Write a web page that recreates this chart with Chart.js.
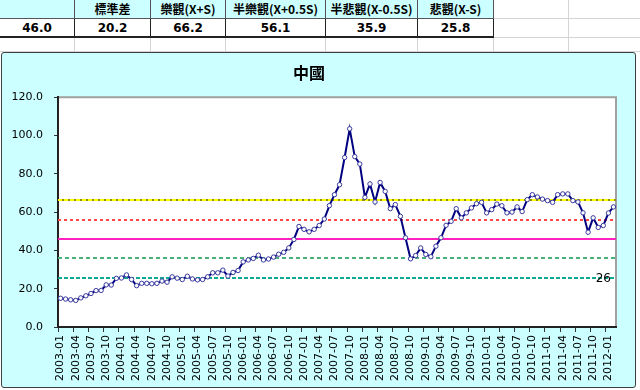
<!DOCTYPE html>
<html>
<head>
<meta charset="utf-8">
<script src="https://cdn.jsdelivr.net/npm/chart.js@4/dist/chart.umd.min.js"></script>
<style>
	html, body { margin: 0; padding: 0; background: #fff; }
	#sheet { position: relative; width: 640px; height: 390px; overflow: hidden; font-family: "DejaVu Sans", "Noto Sans CJK TC", sans-serif; }
	.cell { position: absolute; box-sizing: border-box; border-right: 1px solid #d4d4d4; border-bottom: 1px solid #d4d4d4;
		font-size: 12px; font-weight: bold; text-align: center; color: #000; }
	.head { background: #ccffff; border-right: 1px solid #555; border-bottom: 1px solid #555; font-family: "Noto Sans CJK TC", "DejaVu Sans", sans-serif; }
	.val { background: #fff; border-right: 1px solid #222; border-bottom: 2px solid #222; }
	#box { position: absolute; left: 1px; top: 52px; width: 635px; height: 336px; box-sizing: border-box;
		background: #ccffff; border: 1px solid #404040; border-radius: 3px; }
	#box canvas { position: absolute; left: 0; top: 0; }
</style>
</head>
<body>
<div id="sheet">
	<div id="box"><canvas id="chinaChart" width="633" height="334"></canvas></div>
</div>
<script>
(function(window, document, undefined) {
	// stats table
	var headers = ['', '標準差', '樂觀(X+S)', '半樂觀(X+0.5S)', '半悲觀(X-0.5S)', '悲觀(X-S)'];
	var stats = [46.0, 20.2, 66.2, 56.1, 35.9, 25.8];

	// monthly series, 2003-01 .. 2012-02
	var startYear = 2003;
	var monthCount = 110;
	var values = [
		15.0, 14.6, 14.2, 13.9, 15.2, 16.3, 17.5, 19.0, 19.1, 22.0,
		21.9, 25.4, 25.6, 27.2, 24.8, 21.6, 22.8, 22.8, 22.6, 22.8,
		24.0, 23.4, 26.2, 25.5, 24.8, 26.5, 25.1, 24.6, 24.8, 26.2,
		28.3, 28.3, 29.7, 26.6, 28.5, 29.5, 34.0, 35.0, 35.8, 37.5,
		35.0, 35.5, 36.5, 38.0, 39.0, 41.3, 45.7, 52.5, 51.0, 49.7,
		51.0, 53.0, 56.4, 63.4, 69.1, 74.3, 88.5, 103.5, 89.0, 85.1,
		67.7, 74.7, 65.3, 75.5, 70.8, 61.8, 63.9, 57.8, 46.6, 35.6,
		37.3, 41.3, 37.9, 36.7, 42.2, 46.6, 53.1, 55.2, 61.8, 57.0,
		59.6, 62.2, 64.4, 65.1, 59.6, 61.3, 64.2, 63.3, 59.6, 60.0,
		62.7, 60.3, 66.5, 69.1, 67.9, 66.8, 66.0, 65.1, 69.1, 69.5,
		69.5, 66.0, 65.3, 59.6, 49.5, 57.0, 52.0, 53.0, 59.5, 62.7
	];

	// reference lines: X+S, X+0.5S, X, X-0.5S, X-S
	var refValues = [66.2, 56.1, 46.0, 35.9, 25.8];
	var refLabel = '26';

	var yTicks = [0, 20, 40, 60, 80, 100, 120];

	var categories = [];
	for (var m = 0; m < monthCount; m++) {
		var yr = startYear + Math.floor(m / 12);
		var mo = (m % 12) + 1;
		categories.push(yr + '-' + (mo < 10 ? '0' : '') + mo);
	}

	// --- spreadsheet cells ---
	var sheet = document.getElementById('sheet');
	var colX = [0, 75, 151, 226, 326, 418, 494, 569, 641];
	var rowY = [0, 19, 38, 52];

	function addCell(c, r, cls, text) {
		var d = document.createElement('div');
		d.className = 'cell ' + cls;
		d.style.left = colX[c] + 'px';
		d.style.top = rowY[r] + 'px';
		d.style.width = (colX[c + 1] - colX[c]) + 'px';
		d.style.height = (rowY[r + 1] - rowY[r]) + 'px';
		d.style.lineHeight = (rowY[r + 1] - rowY[r] - 1) + 'px';
		d.textContent = text;
		sheet.insertBefore(d, sheet.firstChild);
	}

	for (var c = 0; c < 8; c++) {
		if (c < 6) {
			addCell(c, 0, 'head', headers[c]);
			addCell(c, 1, 'val', stats[c].toFixed(1));
		} else {
			addCell(c, 0, '', '');
			addCell(c, 1, '', '');
		}
		addCell(c, 2, '', '');
	}

	// --- chart ---
	var plotBg = {
		id: 'plotBg',
		beforeDraw: function(chart) {
			var a = chart.chartArea;
			var ctx = chart.ctx;
			ctx.save();
			ctx.fillStyle = '#ffffff';
			ctx.fillRect(a.left, a.top, a.right - a.left, a.bottom - a.top);
			ctx.strokeStyle = '#a0a0a0';
			ctx.lineWidth = 2;
			ctx.beginPath();
			ctx.moveTo(a.left, a.top);
			ctx.lineTo(a.right, a.top);
			ctx.lineTo(a.right, a.bottom);
			ctx.stroke();
			ctx.restore();
		}
	};

	var refLines = {
		id: 'refLines',
		beforeDatasetsDraw: function(chart) {
			var a = chart.chartArea;
			var ctx = chart.ctx;
			var y = chart.scales.y;
			var x = chart.scales.x;

			function hline(v, color, width, dash) {
				var py = Math.round(y.getPixelForValue(v));
				ctx.save();
				ctx.strokeStyle = color;
				ctx.lineWidth = width;
				ctx.setLineDash(dash);
				ctx.beginPath();
				ctx.moveTo(a.left, py);
				ctx.lineTo(a.right, py);
				ctx.stroke();
				ctx.restore();
			}

			hline(refValues[0], '#909000', 2, []);
			hline(refValues[0], '#ffff00', 2, [4, 2]);
			hline(refValues[1], '#ff4848', 2, [3, 3]);
			hline(refValues[2], '#ff20c0', 2, []);
			hline(refValues[3], '#48b078', 2, [4, 3]);
			hline(refValues[4], '#10a890', 2, [4, 2]);

			ctx.save();
			ctx.fillStyle = '#000';
			ctx.font = '12px "DejaVu Sans"';
			ctx.textAlign = 'center';
			ctx.textBaseline = 'middle';
			ctx.fillText(refLabel, x.getPixelForValue(monthCount - 3), y.getPixelForValue(refValues[4]) + 1);
			ctx.restore();
		}
	};

	var ctx = document.getElementById('chinaChart');
	new Chart(ctx, {
		type: 'line',
		data: {
			labels: categories,
			datasets: [{
				data: values,
				borderColor: '#000080',
				borderWidth: 2,
				pointRadius: 2.2,
				pointBackgroundColor: '#ffffff',
				pointBorderColor: '#3a3aa0',
				pointBorderWidth: 1,
				tension: 0
			}]
		},
		plugins: [plotBg, refLines],
		options: {
			responsive: false,
			devicePixelRatio: 1,
			animation: false,
			layout: { padding: { left: 0, right: 19, top: 0, bottom: 0 } },
			plugins: {
				legend: { display: false },
				tooltip: { enabled: false },
				title: {
					display: true,
					text: '中國',
					color: '#000',
					font: { family: '"Noto Sans CJK TC"', size: 16, weight: 'bold' },
					padding: { top: 10, bottom: 15 }
				}
			},
			scales: {
				x: {
					offset: true,
					grid: {
						offset: true,
						drawOnChartArea: false,
						tickLength: 5,
						tickColor: function(c) {
							return c.index % 3 === 0 ? '#333' : 'rgba(0,0,0,0)';
						}
					},
					border: { color: '#222', width: 2 },
					ticks: {
						autoSkip: false,
						minRotation: 90,
						maxRotation: 90,
						padding: 3,
						color: '#000',
						font: { family: '"DejaVu Sans"', size: 11 },
						callback: function(val, i) {
							return i % 3 === 0 ? categories[i] : '';
						}
					},
					afterFit: function(scale) { scale.height = 60; }
				},
				y: {
					min: yTicks[0],
					max: yTicks[yTicks.length - 1],
					grid: { drawOnChartArea: false, tickLength: 4, tickColor: '#333' },
					border: { color: '#222', width: 2 },
					ticks: {
						stepSize: 20,
						padding: 11,
						color: '#000',
						font: { family: '"DejaVu Sans"', size: 11 },
						callback: function(v) { return v.toFixed(1); }
					},
					afterFit: function(scale) { scale.width = 56; }
				}
			}
		}
	});
})(window, document);
</script>
</body>
</html>
